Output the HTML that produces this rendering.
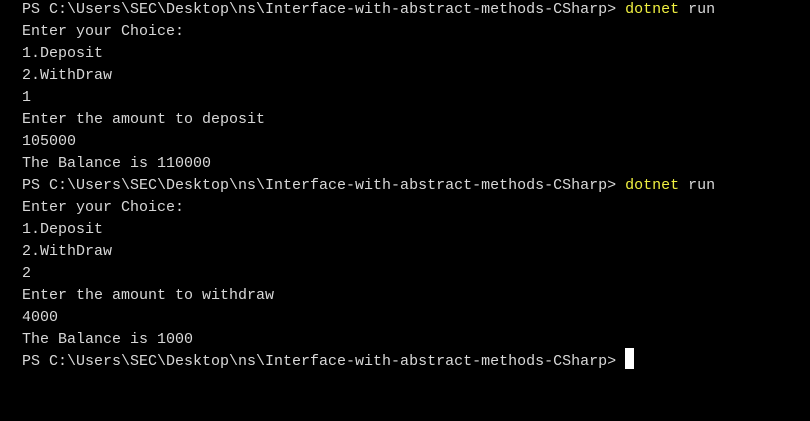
<!DOCTYPE html>
<html><head><style>
html,body{margin:0;padding:0;background:#000;width:810px;height:421px;overflow:hidden}
pre{margin:0;position:absolute;left:22px;top:-1px;font-family:"Liberation Mono",monospace;font-size:15px;line-height:22px;color:#d8d8d8}
.y{color:#f0f040}
.c{position:absolute;left:625px;top:348px;width:9px;height:21px;background:#fff}
</style></head><body><pre>PS C:\Users\SEC\Desktop\ns\Interface-with-abstract-methods-CSharp&gt; <span class="y">dotnet</span> run
Enter your Choice:
1.Deposit
2.WithDraw
1
Enter the amount to deposit
105000
The Balance is 110000
PS C:\Users\SEC\Desktop\ns\Interface-with-abstract-methods-CSharp&gt; <span class="y">dotnet</span> run
Enter your Choice:
1.Deposit
2.WithDraw
2
Enter the amount to withdraw
4000
The Balance is 1000
PS C:\Users\SEC\Desktop\ns\Interface-with-abstract-methods-CSharp&gt; </pre><div class="c"></div></body></html>
